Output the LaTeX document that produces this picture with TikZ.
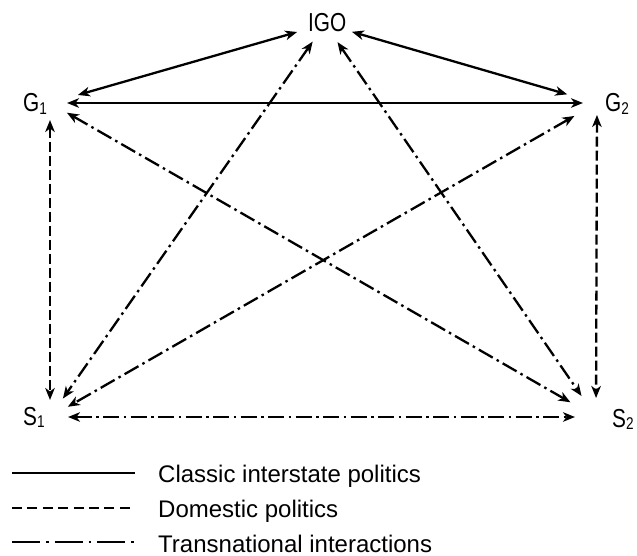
\documentclass[tikz,border=0pt]{standalone}
\usepackage{fontspec}
\setmainfont{Liberation Sans}
\newfontfamily\labfont{Liberation Sans}[FakeStretch=0.8]
\usetikzlibrary{arrows.meta}
\newcommand\subidx[1]{\raisebox{-2.5pt}{\fontsize{17pt}{17pt}\selectfont #1}}
\begin{document}
\begin{tikzpicture}[x=1pt,y=-1pt,
  tip/.tip={Stealth[length=12pt,width=9.5pt,inset=3.5pt]},
  rel/.style={line width=2.3pt,{tip}-{tip}},
  classic/.style={rel},
  domestic/.style={rel,dash pattern=on 10pt off 4pt},
  transnat/.style={rel,dash pattern=on 16pt off 4.5pt on 2.5pt off 4.5pt},
  lab/.style={font=\labfont\fontsize{26pt}{26pt}\selectfont,inner sep=0pt,anchor=base west},
  keyline/.style={line width=2.6pt},
  keytext/.style={font=\fontsize{24pt}{24pt}\selectfont,inner sep=0pt,anchor=base west}]
\useasboundingbox (0,0) rectangle (637,556);

% actors
\node[lab] (tIGO) at (308,32) {IGO};
\node[lab] (tG1) at (23,112) {G\subidx{1}};
\node[lab] (tG2) at (605,112) {G\subidx{2}};
\node[lab] (tS1) at (23,425) {S\subidx{1}};
\node[lab] (tS2) at (612,427) {S\subidx{2}};

% meeting points of the relations
\coordinate (IGO) at (325,24);
\coordinate (G1) at (50,103);
\coordinate (G2) at (597,103);
\coordinate (S1) at (50,417);
\coordinate (S2) at (596,417);

% classic interstate politics
\draw[classic,shorten <=29pt,shorten >=29pt] (IGO) -- (G1);
\draw[classic,shorten <=28pt,shorten >=31pt] (IGO) -- (G2);
\draw[classic,shorten <=17pt,shorten >=14pt] (G1) -- (G2);

% domestic politics
\draw[domestic,shorten <=17pt,shorten >=17pt] (G1) -- (S1);
\draw[domestic,shorten <=12pt,shorten >=19pt] (G2) -- (S2);

% transnational interactions
\draw[transnat,shorten <=18pt,shorten >=21pt] (S1) -- (S2);
\draw[transnat,shorten <=21.5pt,shorten >=22.5pt] (IGO) -- (S1);
\draw[transnat,shorten <=22pt,shorten >=25.5pt] (IGO) -- (S2);
\draw[transnat,shorten <=19.5pt,shorten >=29.5pt] (G1) -- (S2);
\draw[transnat,shorten <=26pt,shorten >=20.5pt] (G2) -- (S1);

% key
\coordinate (k1a) at (12,473); \coordinate (k1b) at (135,473);
\coordinate (k2a) at (12,508); \coordinate (k2b) at (135,508);
\coordinate (k3a) at (12,542); \coordinate (k3b) at (135,542);
\draw[keyline] (k1a) -- (k1b);
\draw[keyline,dash pattern=on 10pt off 5.4pt] (k2a) -- (k2b);
\draw[keyline,dash pattern=on 28pt off 6pt on 2.5pt off 6pt] (k3a) -- (k3b);
\node[keytext] (key1) at (158,482) {Classic interstate politics};
\node[keytext] (key2) at (158,517) {Domestic politics};
\node[keytext] (key3) at (158,552) {Transnational interactions};
\end{tikzpicture}
\end{document}
